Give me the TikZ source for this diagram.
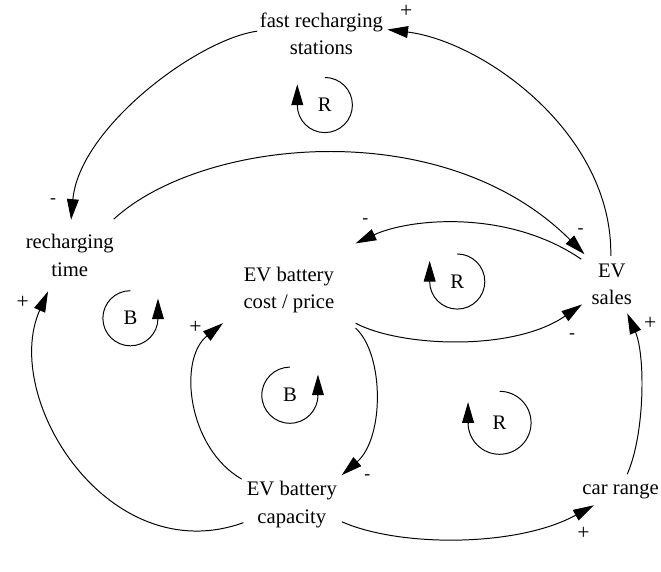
\documentclass[tikz,border=0pt]{standalone}
\usepackage{fontspec}
\setmainfont{Liberation Serif}
\newfontfamily\tmsfont{Liberation Serif}
\usetikzlibrary{arrows.meta,calc}
\begin{document}
\begin{tikzpicture}[x=1pt,y=-1pt,
  var/.style={align=center,font=\tmsfont\fontsize{21}{27.6}\selectfont,inner sep=0pt},
  plus/.style={font=\tmsfont\fontsize{22}{24}\selectfont,inner sep=0pt},
  minus/.style={font=\tmsfont\fontsize{18}{20}\selectfont,inner sep=0pt},
  link/.style={line width=1pt,-{Triangle[length=21pt,width=12pt]}},
  loopline/.style={line width=1pt},
  looptip/.style={line width=1pt,-{Triangle[length=21pt,width=12pt]}},
  looplbl/.style={font=\tmsfont\fontsize{21}{24}\selectfont,inner sep=0pt}]
\path[fill=white] (0,0) rectangle (661,550);
% variables
\node[var] (fast) at (316,34.5) {fast recharging\\stations};
\node[var] (time) at (60.4,259.5) {recharging\\time};
\node[var] (cost) at (283,294.5) {EV battery\\cost / price};
\node[var] (sales) at (611,289) {EV\\sales};
\node[var] (cap) at (286,512.5) {EV battery\\capacity};
\node[var] (range) at (620,499.5) {car range};
% links
\draw[link] ($(sales)+(-1,-29)$) .. controls (612,135) and (480,42) .. ($(fast)+(67,-4.5)$);
\draw[link] ($(fast)+(-65.3,-2.8)$) .. controls (190,40) and (70,130) .. ($(time)+(1.3,-36.2)$);
\draw[link] ($(time)+(44.6,-36.8)$) .. controls (195,140) and (440,115) .. ($(sales)+(-27.7,-30.7)$);
\draw[link] ($(sales)+(-31,-25.7)$) .. controls (505,212) and (405,222) .. ($(cost)+(67.7,-47.2)$);
\draw[link] ($(cost)+(67.7,33.8)$) .. controls (395,352) and (510,358) .. ($(sales)+(-30.3,20.3)$);
\draw[link] ($(cost)+(67.7,38.8)$) .. controls (380,360) and (380,445) .. ($(cap)+(50.7,-29.8)$);
\draw[link] ($(cap)+(-51,-25.8)$) .. controls (180,455) and (170,365) .. ($(cost)+(-67,33.8)$);
\draw[link] ($(cap)+(-49.3,18.5)$) .. controls (100,580) and (-10,405) .. ($(time)+(-22.1,36.5)$);
\draw[link] ($(cap)+(50.7,17.5)$) .. controls (395,556) and (515,556) .. ($(range)+(-27.3,13.8)$);
\draw[link] ($(range)+(6.7,-17.8)$) .. controls (645,440) and (645,360) .. ($(sales)+(15.7,29.3)$);
% polarity signs
\node[plus] (s1) at (402.3,11.7) {+};
\node[minus] (s2) at (43.3,204.3) {-};
\node[minus] (s3) at (579.3,234.3) {-};
\node[minus] (s4) at (360.7,225) {-};
\node[minus] (s5) at (570.7,341) {-};
\node[plus] (s6) at (650,328.3) {+};
\node[plus] (s7) at (12.7,306.7) {+};
\node[plus] (s8) at (188,333) {+};
\node[minus] (s9) at (362.7,484.3) {-};
\node[plus] (s10) at (582.3,541.7) {+};
% loop markers
\node[looplbl] (r1) at (319.5,106.7) {R};
\draw[loopline] ($(r1)+(0,-28)$) arc[start angle=90,end angle=-180,radius=28pt] coordinate (r1e);
\draw[looptip] (r1e) -- ++(0,-21);
\node[looplbl] (b1) at (122,323.3) {B};
\draw[loopline] ($(b1)+(0,-28)$) arc[start angle=90,end angle=360,radius=28pt] coordinate (b1e);
\draw[looptip] (b1e) -- ++(0,-20);
\node[looplbl] (r2) at (454,286) {R};
\draw[loopline] ($(r2)+(0,-28)$) arc[start angle=90,end angle=-180,radius=28pt] coordinate (r2e);
\draw[looptip] (r2e) -- ++(0,-21);
\node[looplbl] (b2) at (284,401.5) {B};
\draw[loopline] ($(b2)+(0,-28.5)$) arc[start angle=90,end angle=360,radius=28.5pt] coordinate (b2e);
\draw[looptip] (b2e) -- ++(0,-21);
\node[looplbl] (r3) at (497,429.5) {R};
\draw[loopline] ($(r3)+(0,-32)$) arc[start angle=90,end angle=-180,radius=32pt] coordinate (r3e);
\draw[looptip] (r3e) -- ++(0,-21);
\end{tikzpicture}
\end{document}
